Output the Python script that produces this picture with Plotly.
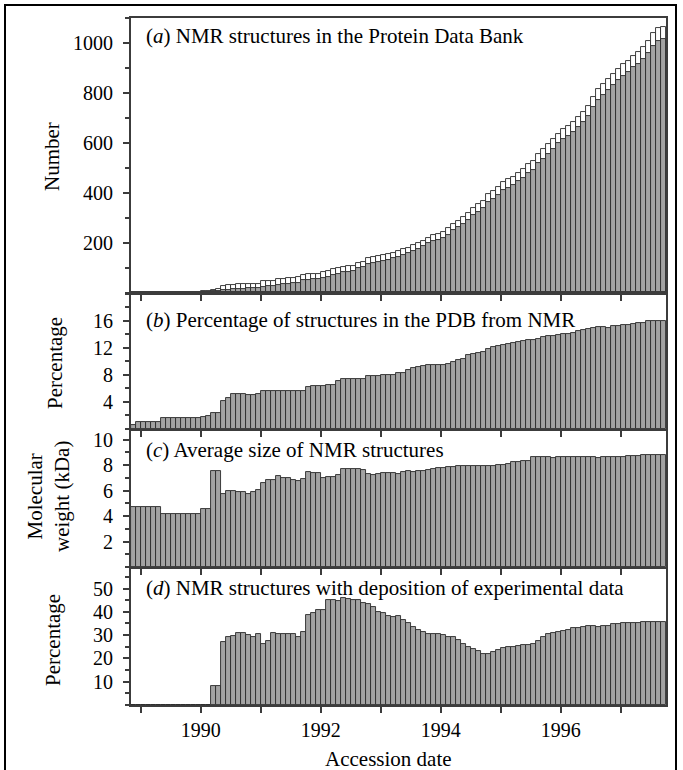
import pandas as pd
import plotly.graph_objects as go
from plotly.subplots import make_subplots

# Monthly accession periods, Nov 1988 .. Sep 1997
months = pd.period_range("1988-11", "1997-09", freq="M")

# (a) NMR entries in the PDB: total (open bars) and released (shaded bars)
nmr_total = [
    1, 1, 1, 2, 2, 2, 3, 3, 3, 4, 4, 4, 5, 5,
    7, 8, 14, 16, 29, 32, 33, 36, 36, 37, 37, 38,
    47, 49, 50, 57, 58, 59, 62, 63, 74, 76, 77, 78,
    86, 88, 98, 100, 106, 108, 110, 122, 126, 140, 145, 148,
    152, 155, 162, 168, 175, 182, 192, 200, 210, 222, 232, 238,
    245, 260, 278, 290, 305, 322, 340, 355, 370, 395, 410, 425,
    445, 455, 465, 482, 498, 515, 528, 555, 575, 595, 615, 638,
    655, 668, 685, 705, 725, 750, 785, 815, 835, 855, 875, 895,
    915, 930, 950, 965, 985, 1010, 1040, 1060, 1065,
]
nmr_released = [
    0, 0, 1, 1, 1, 2, 2, 2, 3, 3, 3, 3, 4, 4,
    4, 5, 8, 9, 12, 14, 15, 18, 18, 19, 19, 20,
    26, 27, 28, 34, 35, 36, 40, 41, 52, 54, 55, 56,
    62, 64, 74, 77, 84, 86, 88, 100, 104, 117, 122, 125,
    130, 133, 140, 146, 153, 160, 170, 178, 188, 199, 208, 214,
    220, 234, 252, 263, 277, 294, 311, 325, 340, 364, 378, 393,
    412, 421, 431, 447, 462, 479, 492, 519, 538, 558, 577, 600,
    617, 630, 646, 666, 686, 710, 745, 774, 794, 813, 832, 851,
    870, 884, 903, 918, 937, 962, 990, 1010, 1015,
]

# (b) Percentage of PDB structures determined by NMR
pct_nmr = [
    0.6, 1.1, 1.1, 1.1, 1.1, 1.1, 1.6, 1.6, 1.6, 1.6, 1.6, 1.6, 1.6, 1.6,
    1.8, 1.85, 2.3, 2.3, 4.1, 4.6, 5.1, 5.2, 5.2, 5.0, 5.0, 5.2,
    5.6, 5.65, 5.65, 5.65, 5.6, 5.6, 5.6, 5.55, 5.65, 6.2, 6.3, 6.3,
    6.4, 6.45, 6.5, 7.1, 7.35, 7.4, 7.45, 7.45, 7.4, 7.85, 7.9, 7.9,
    8.0, 8.0, 8.05, 8.3, 8.3, 8.7, 9.0, 9.2, 9.3, 9.4, 9.45, 9.45,
    9.5, 9.6, 9.9, 10.2, 10.4, 10.9, 11.1, 11.2, 11.4, 11.8, 12.1, 12.2,
    12.4, 12.6, 12.7, 12.9, 13.0, 13.1, 13.2, 13.3, 13.6, 13.7, 13.8, 13.9,
    14.0, 14.1, 14.2, 14.5, 14.6, 14.8, 15.0, 15.1, 15.1, 15.0, 15.2, 15.2,
    15.3, 15.4, 15.5, 15.6, 15.7, 15.9, 16.0, 16.0, 16.0,
]

# (c) Average molecular weight of NMR structures (kDa)
avg_kda = [
    4.7, 4.7, 4.7, 4.7, 4.7, 4.7, 4.15, 4.15, 4.15, 4.15, 4.15, 4.15, 4.15, 4.15,
    4.55, 4.55, 7.5, 7.5, 5.75, 5.95, 6.0, 5.9, 5.85, 5.75, 5.85, 6.05,
    6.6, 6.8, 6.8, 7.15, 7.0, 6.95, 6.85, 6.75, 6.9, 7.45, 7.4, 7.35,
    7.0, 7.05, 7.1, 7.2, 7.65, 7.7, 7.7, 7.65, 7.6, 7.3, 7.25, 7.3,
    7.4, 7.4, 7.35, 7.3, 7.45, 7.5, 7.45, 7.5, 7.55, 7.6, 7.7, 7.75,
    7.8, 7.85, 7.85, 7.9, 7.9, 7.95, 7.95, 7.95, 7.95, 7.95, 7.95, 8.0,
    8.0, 8.05, 8.25, 8.25, 8.3, 8.35, 8.6, 8.65, 8.65, 8.6, 8.55, 8.6,
    8.65, 8.65, 8.65, 8.65, 8.6, 8.6, 8.6, 8.55, 8.6, 8.6, 8.6, 8.65,
    8.65, 8.7, 8.7, 8.7, 8.8, 8.8, 8.8, 8.8, 8.8,
]

# (d) Percentage of NMR entries deposited with experimental data
pct_expdata = [
    0, 0, 0, 0, 0, 0, 0, 0, 0, 0, 0, 0, 0, 0,
    0, 0, 8, 8, 27.1, 29, 29.6, 31, 31, 30, 29.3, 30.4,
    26, 27.6, 31, 30.7, 30.7, 30.7, 30.4, 29.3, 31.5, 38.8, 39.3, 40.7,
    40.7, 45.3, 45, 44.7, 46, 45.7, 45, 45, 43.9, 43.3, 42.1, 40,
    39.3, 38.1, 37.9, 38.1, 36.4, 35, 33.6, 32.1, 31.4, 30.7, 30.4, 30.4,
    30, 29.3, 29, 27.9, 26.4, 24.7, 23.9, 23.3, 22.1, 21.8, 22.8, 23.8,
    24.3, 24.7, 25, 25.3, 25.6, 25.7, 26.1, 27.6, 29, 30.4, 31, 31.3,
    31.7, 32.1, 32.9, 32.9, 33.6, 33.9, 33.9, 33.6, 33.9, 34.1, 34.6, 34.9,
    35, 35, 35.3, 35.3, 35.6, 35.6, 35.6, 35.6, 35.6,
]

panel_titles = [
    "(<i>a</i>) NMR structures in the Protein Data Bank",
    "(<i>b</i>) Percentage of structures in the PDB from NMR",
    "(<i>c</i>) Average size of NMR structures",
    "(<i>d</i>) NMR structures with deposition of experimental data",
]
y_titles = ["Number", "Percentage", "Molecular<br>weight (kDa)", "Percentage"]
year_ticks = list(range(1989, 1998))
year_labels = [str(y) if y % 2 == 0 else "" for y in year_ticks]

# decimal-year centre of each monthly bar
x = [p.year + (p.month - 0.5) / 12 for p in months]
bar_w = 1 / 12

FONT = "Liberation Serif, Times New Roman, serif"
FILL = "#a3a3a3"
EDGE = "#2a2a2a"
AXIS = "#3c3c3c"

fig = make_subplots(rows=4, cols=1, shared_xaxes=True, vertical_spacing=0)

def bars(y, fill, row):
    fig.add_trace(
        go.Bar(x=x, y=y, width=bar_w, marker=dict(color=fill, opacity=1,
               line=dict(color=EDGE, width=0.9)), showlegend=False),
        row=row, col=1,
    )

bars(nmr_total, "white", 1)
bars(nmr_released, FILL, 1)
bars(pct_nmr, FILL, 2)
bars(avg_kda, FILL, 3)
bars(pct_expdata, FILL, 4)

# plot-area geometry (pixels)
W, H = 683, 770
ML, MR, MT, MB = 131, 17, 18, 65
pw, ph = W - ML - MR, H - MT - MB

def py(pix):  # pixel row -> paper y
    return (H - MB - pix) / ph

def px(pix):  # pixel column -> paper x
    return (pix - ML) / pw

panel_px = [(18, 293), (293, 429), (431, 567), (569, 705)]
label_dy = [18, 27, 19, 19]
y_ranges = [[0, 1100], [0, 20.1], [0, 10.67], [0, 58.4]]
y_major = [[200, 400, 600, 800, 1000], [4, 8, 12, 16], [2, 4, 6, 8, 10], [10, 20, 30, 40, 50]]
y_minor = [100, 2, 1, 5]

for k in range(4):
    top, bot = panel_px[k]
    yname = "yaxis" if k == 0 else f"yaxis{k + 1}"
    xname = "xaxis" if k == 0 else f"xaxis{k + 1}"
    fig.layout[yname].update(
        domain=[py(bot), py(top)], range=y_ranges[k],
        tickvals=y_major[k], ticks="outside", ticklen=6, tickwidth=1.5, tickcolor=AXIS,
        minor=dict(dtick=y_minor[k], tick0=0, ticks="outside", ticklen=4, tickcolor=AXIS),
        showline=True, linecolor=AXIS, linewidth=2, mirror=True,
        showgrid=False, zeroline=False, ticklabelstandoff=6,
        tickfont=dict(family=FONT, size=20, color="black"),
    )
    fig.layout[xname].update(
        range=[1988.835, 1997.755], tickvals=year_ticks, ticktext=year_labels,
        ticks="outside", ticklen=6, tickwidth=1.5, tickcolor=AXIS,
        showline=True, linecolor=AXIS, linewidth=2, mirror=True,
        showgrid=False, zeroline=False, showticklabels=(k == 3),
        tickfont=dict(family=FONT, size=20, color="black"),
    )
    fig.add_annotation(
        text=panel_titles[k], xref="paper", yref="paper",
        x=px(144), y=py(top + label_dy[k]), xanchor="left", yanchor="middle",
        showarrow=False, font=dict(family=FONT, size=21, color="black"),
    )

# y-axis titles
title_pos = [(52, 157), (55, 363), (48, 497), (53, 640)]
for k, (cx, cy) in enumerate(title_pos):
    fig.add_annotation(
        text=y_titles[k], xref="paper", yref="paper", x=px(cx), y=py(cy),
        xanchor="center", yanchor="middle", textangle=-90, showarrow=False,
        font=dict(family=FONT, size=21, color="black"),
    )

fig.add_annotation(
    text="Accession date", xref="paper", yref="paper", x=px(388), y=py(759),
    xanchor="center", yanchor="middle", showarrow=False,
    font=dict(family=FONT, size=21, color="black"),
)

# outer frame around the whole figure
fig.add_shape(type="rect", xref="paper", yref="paper",
              x0=px(5), x1=px(676), y0=py(775), y1=py(5),
              line=dict(color="black", width=2), fillcolor="rgba(0,0,0,0)")

fig.update_layout(
    width=W, height=H, margin=dict(l=ML, r=MR, t=MT, b=MB),
    barmode="overlay", bargap=0,
    paper_bgcolor="white", plot_bgcolor="white",
    font=dict(family=FONT, color="black"),
)

fig.write_html("out.html")
